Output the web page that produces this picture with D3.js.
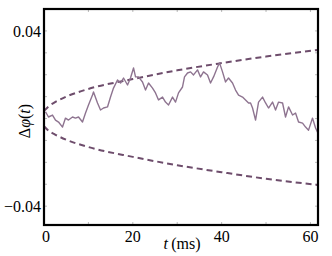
<!DOCTYPE html>
<html><head><meta charset="utf-8">
<script src="https://cdn.jsdelivr.net/npm/d3@7"></script>
<style>html,body{margin:0;padding:0;background:#fff;}svg{display:block;}
text{font-family:"Liberation Serif","Times New Roman","DejaVu Serif","Noto Serif",serif;font-size:16px;}</style>
</head><body>
<script>
// random-walk phase difference, t in ms
const walkT = [0.34,1.01,1.91,2.59,3.27,4.17,4.84,5.52,6.42,7.09,7.77,8.67,9.35,10.02,10.92,11.15,12.05,12.73,13.40,14.30,14.98,15.65,16.55,17.23,17.91,18.81,19.48,20.16,20.61,21.28,22.18,22.86,23.54,24.44,25.11,25.79,26.69,27.36,28.04,28.94,29.62,30.29,31.19,31.64,32.32,33.00,33.67,34.57,35.25,35.92,36.82,37.50,38.18,39.08,39.53,40.20,40.88,41.55,42.45,43.13,43.81,44.71,45.38,46.06,46.51,46.96,47.64,48.31,49.21,49.89,50.56,51.46,52.14,52.82,53.72,54.39,55.07,55.97,56.64,57.32,58.22,58.90,59.57,60.47,61.15,61.60];
const walkV = [0.0031,0.0007,0.0016,-0.0007,-0.0016,-0.0039,0.0002,-0.0007,0.0007,0.0002,0.0007,-0.0016,0.0025,0.0062,0.0107,0.0121,0.0071,0.0039,0.0048,0.0053,0.0098,0.0139,0.0176,0.0162,0.0185,0.0153,0.0185,0.0231,0.0190,0.0190,0.0167,0.0130,0.0162,0.0139,0.0117,0.0085,0.0098,0.0075,0.0062,0.0098,0.0075,0.0117,0.0144,0.0190,0.0208,0.0213,0.0199,0.0222,0.0190,0.0213,0.0199,0.0162,0.0190,0.0235,0.0254,0.0213,0.0167,0.0185,0.0162,0.0130,0.0107,0.0098,0.0085,0.0071,0.0071,0.0048,-0.0007,0.0075,0.0098,0.0071,0.0048,0.0075,0.0039,0.0075,0.0071,0.0007,0.0053,0.0016,0.0025,-0.0016,-0.0021,-0.0039,-0.0053,0.0002,-0.0043,-0.0062];
// diffusion envelope (dashed)
const envT = [0, 1, 2.5, 5, 10, 20, 30, 40, 50, 61.7];
const envUpper = [0.0035, 0.0055, 0.0075, 0.0100, 0.0135, 0.0180, 0.0220, 0.0253, 0.0283, 0.0313];
const envLower = [-0.0035, -0.0055, -0.0073, -0.0097, -0.0130, -0.0175, -0.0213, -0.0245, -0.0275, -0.0303];
const xTicks = [0, 20, 40, 60];
const xMinor = [10, 20, 30, 40, 50, 60];
const yTicks = [-0.04, 0.04];
const yMinor = [-0.04, -0.03, -0.02, -0.01, 0, 0.01, 0.02, 0.03, 0.04];

const W = 332, H = 256;
const L = 44, T = 9, R = 318, B = 225;
const svg = d3.select("body").append("svg").attr("width", W).attr("height", H);
const x = d3.scaleLinear().domain([0, 61.7]).range([L, R]);
const y = d3.scaleLinear().domain([-0.0486, 0.05]).range([B, T]);

// minor ticks (inward)
const tk = svg.append("g").attr("stroke", "#aaa").attr("stroke-width", 0.8);
xMinor.forEach(v => {
  tk.append("line").attr("x1", x(v)).attr("x2", x(v)).attr("y1", B).attr("y2", B - 3);
  tk.append("line").attr("x1", x(v)).attr("x2", x(v)).attr("y1", T).attr("y2", T + 3);
});
yMinor.forEach(v => {
  tk.append("line").attr("x1", L).attr("x2", L + 3).attr("y1", y(v)).attr("y2", y(v));
  tk.append("line").attr("x1", R).attr("x2", R - 3).attr("y1", y(v)).attr("y2", y(v));
});

// envelope
const envLine = d3.line().curve(d3.curveMonotoneX);
[envUpper, envLower].forEach(arr => {
  svg.append("path")
    .attr("d", envLine(envT.map((t, i) => [x(t), y(arr[i])])))
    .attr("fill", "none").attr("stroke", "#6e4d6c").attr("stroke-width", 2)
    .attr("stroke-dasharray", "6,4");
});

// walk
const wl = d3.line().x((d, i) => x(walkT[i])).y((d, i) => y(walkV[i]));
svg.append("path").attr("d", wl(walkT))
  .attr("fill", "none").attr("stroke", "#8e7490").attr("stroke-width", 1.4)
  .attr("stroke-linejoin", "round");

// frame
svg.append("rect").attr("x", L).attr("y", T).attr("width", R - L).attr("height", B - T)
  .attr("fill", "none").attr("stroke", "#000").attr("stroke-width", 2.2);

// tick labels
xTicks.forEach(v => {
  svg.append("text").attr("x", x(v) + (v === 0 ? 2 : 0)).attr("y", 242).attr("text-anchor", "middle").text(v);
});
yTicks.forEach(v => {
  svg.append("text").attr("x", 41).attr("y", y(v) + 6).attr("text-anchor", "end")
    .text(v < 0 ? "\u2212" + Math.abs(v).toFixed(2) : v.toFixed(2));
});

// axis titles
const yl = svg.append("text").attr("transform", "translate(30,121) rotate(-90)").attr("text-anchor", "middle");
yl.append("tspan").text("\u0394");
yl.append("tspan").attr("font-style", "italic").text("\u03c6");
yl.append("tspan").text("(");
yl.append("tspan").attr("font-style", "italic").text("t");
yl.append("tspan").text(")");

const xl = svg.append("text").attr("x", 182).attr("y", 249).attr("text-anchor", "middle");
xl.append("tspan").attr("font-style", "italic").text("t");
xl.append("tspan").text("\u2009(ms)");
</script>
</body></html>
